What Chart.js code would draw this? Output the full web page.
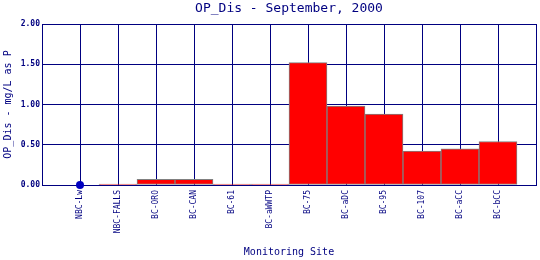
<!DOCTYPE html>
<html>
<head>
<meta charset="utf-8">
<script src="https://cdn.jsdelivr.net/npm/chart.js@4"></script>
<style>
    html, body { margin: 0; padding: 0; background: #fff; }
    #wrap { width: 540px; height: 260px; }
</style>
</head>
<body>
<div id="wrap"><canvas id="opChart"></canvas></div>
<script>
// Monitoring sites and OP_Dis values (mg/L as P)
const sites = ["NBC-Lw", "NBC-FALLS", "BC-ORO", "BC-CAN", "BC-61", "BC-aWWTP",
               "BC-75", "BC-aDC", "BC-95", "BC-107", "BC-aCC", "BC-bCC"];
const barValues = [null, 0, 0.07, 0.07, 0, 0, 1.52, 0.98, 0.88, 0.42, 0.45, 0.54];
const pointValues = [0, null, null, null, null, null, null, null, null, null, null, null];
const yTicks = [0, 0.5, 1.0, 1.5, 2.0];

const navy = "#000080";
const mono = "'DejaVu Sans Mono', monospace";

// draws the main title centred over the plot area
const titlePlugin = {
    id: 'plotTitle',
    afterDraw(chart) {
        const c = chart.ctx;
        const area = chart.chartArea;
        c.save();
        c.font = "13px " + mono;
        c.fillStyle = navy;
        c.textAlign = "center";
        c.textBaseline = "middle";
        c.fillText("OP_Dis - September, 2000", (area.left + area.right) / 2, 9);
        c.restore();
    }
};

const ctx = document.getElementById("opChart").getContext("2d");

new Chart(ctx, {
    data: {
        datasets: [{
            type: "bar",
            data: sites.map((s, i) => ({ x: i, y: barValues[i] })),
            backgroundColor: "#ff0000",
            borderColor: "#808080",
            borderWidth: 1,
            borderSkipped: false,
            minBarLength: 1,
            barPercentage: 1,
            categoryPercentage: 1,
            order: 2
        }, {
            type: "scatter",
            data: sites.map((s, i) => ({ x: i, y: pointValues[i] })),
            pointRadius: 4,
            pointBackgroundColor: "#0000c0",
            pointBorderColor: "#0000c0",
            borderWidth: 0,
            clip: false,
            order: 1
        }]
    },
    options: {
        responsive: true,
        maintainAspectRatio: false,
        animation: false,
        layout: { padding: { top: 24, right: 3, left: 0, bottom: 0 } },
        scales: {
            x: {
                type: "linear",
                min: -1,
                max: 12,
                offset: false,
                grid: { color: navy, lineWidth: 1, drawTicks: false, offset: false },
                border: { color: navy },
                afterFit: scale => {
                    scale.height = 75;
                    scale.paddingLeft = 0;
                    scale.paddingRight = 0;
                },
                ticks: {
                    stepSize: 1,
                    autoSkip: false,
                    maxRotation: 90,
                    minRotation: 90,
                    padding: 5,
                    color: navy,
                    font: { family: mono, size: 8 },
                    callback: value => sites[value] || ''
                },
                title: {
                    display: true,
                    text: "Monitoring Site",
                    color: navy,
                    font: { family: mono, size: 10 },
                    padding: { top: 0, bottom: 2 }
                }
            },
            y: {
                min: 0,
                max: 2,
                afterBuildTicks: scale => { scale.ticks = yTicks.map(v => ({ value: v })); },
                afterFit: scale => { scale.width = 42; },
                grid: { color: navy, lineWidth: 1, drawTicks: false },
                border: { color: navy },
                ticks: {
                    padding: 2,
                    color: navy,
                    font: { family: mono, size: 8, weight: "bold" },
                    callback: value => value.toFixed(2)
                },
                title: {
                    display: true,
                    text: "OP_Dis - mg/L as P",
                    color: navy,
                    font: { family: mono, size: 10 },
                    padding: { top: 2, bottom: 0 }
                }
            }
        },
        plugins: {
            legend: { display: false },
            tooltip: { enabled: false }
        }
    },
    plugins: [titlePlugin]
});
</script>
</body>
</html>
